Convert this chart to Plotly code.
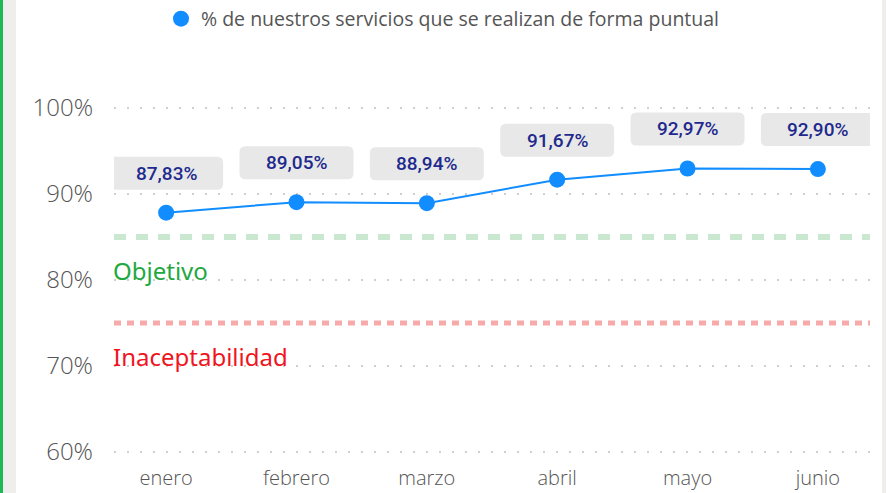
import plotly.graph_objects as go

months = ["enero", "febrero", "marzo", "abril", "mayo", "junio"]
pct_on_time = [87.83, 89.05, 88.94, 91.67, 92.97, 92.90]
target_value = 85
unacceptable_value = 75
y_ticks = [60, 70, 80, 90, 100]
y_tick_labels = ["60%", "70%", "80%", "90%", "100%"]
series_name = "% de nuestros servicios que se realizan de forma puntual"

W, H = 886, 493
ML, MR, MT, MB = 114, 16, 104, 35
PW = W - ML - MR
PH = H - MT - MB

BLUE = "#118DFF"
fig = go.Figure()
fig.add_trace(go.Scatter(
    x=months, y=pct_on_time, mode="lines+markers",
    line=dict(color=BLUE, width=2),
    marker=dict(color=BLUE, size=16),
    showlegend=False, hoverinfo="skip", cliponaxis=False,
))
fig.add_trace(go.Scatter(
    x=[None], y=[None], mode="markers", name=series_name,
    marker=dict(color=BLUE, size=22), showlegend=True,
))

shapes = []
annotations = []
# rounded label boxes anchored at data points (pixel offsets)
bw, bh, off, r = 57, 33, 23, 6
path = (f"M {-bw+r},{off} L {bw-r},{off} Q {bw},{off} {bw},{off+r} "
        f"L {bw},{off+bh-r} Q {bw},{off+bh} {bw-r},{off+bh} "
        f"L {-bw+r},{off+bh} Q {-bw},{off+bh} {-bw},{off+bh-r} "
        f"L {-bw},{off+r} Q {-bw},{off} {-bw+r},{off} Z")
for m, v in zip(months, pct_on_time):
    shapes.append(dict(type="path", xref="x", yref="y", xsizemode="pixel", ysizemode="pixel",
                       xanchor=m, yanchor=v, path=path,
                       fillcolor="#E8E8E8", line=dict(width=0), layer="below"))
    annotations.append(dict(x=m, y=v, xref="x", yref="y", text=f"{v:.2f}%".replace(".", ","),
                            showarrow=False, yshift=off + bh / 2, yanchor="middle",
                            font=dict(family="Roboto", size=19, color="#1E2A8E", weight=500)))

# reference lines
shapes.append(dict(type="line", xref="paper", yref="y", x0=0, x1=1,
                   y0=target_value, y1=target_value,
                   line=dict(color="#C9E8CF", width=6, dash="12px,10px"), layer="below"))
shapes.append(dict(type="line", xref="paper", yref="y", x0=0, x1=1,
                   y0=unacceptable_value, y1=unacceptable_value,
                   line=dict(color="#F8A9A9", width=5, dash="7px,6px"), layer="below"))
annotations.append(dict(x=0, y=target_value, xref="paper", yref="y", text="Objetivo",
                        showarrow=False, xanchor="left", yanchor="middle", yshift=-33, xshift=-3,
                        font=dict(family="Noto Sans", size=24, color="#22A83F")))
annotations.append(dict(x=0, y=unacceptable_value, xref="paper", yref="y", text="Inaceptabilidad",
                        showarrow=False, xanchor="left", yanchor="middle", yshift=-33, xshift=-3,
                        font=dict(family="Noto Sans", size=24, color="#F0141E")))

# frame decorations (left green bar, gray strips)
def px_x(p):
    return (p - ML) / PW
full_y0 = -MB / PH - 0.01
full_y1 = 1 + MT / PH + 0.01
shapes.append(dict(type="rect", xref="paper", yref="paper", x0=px_x(0), x1=px_x(3),
                   y0=full_y0, y1=full_y1, fillcolor="#1DB954", line=dict(width=0), layer="below"))
shapes.append(dict(type="rect", xref="paper", yref="paper", x0=px_x(3), x1=px_x(16),
                   y0=full_y0, y1=full_y1, fillcolor="#EFEEEC", line=dict(width=0), layer="below"))
shapes.append(dict(type="rect", xref="paper", yref="paper", x0=px_x(882), x1=px_x(887),
                   y0=full_y0, y1=full_y1, fillcolor="#EFEEEC", line=dict(width=0), layer="below"))

fig.update_layout(
    width=W, height=H,
    margin=dict(l=ML, r=MR, t=MT, b=MB, autoexpand=False),
    paper_bgcolor="white", plot_bgcolor="white",
    shapes=shapes, annotations=annotations,
    showlegend=True,
    legend=dict(orientation="h", xref="container", yref="container",
                x=0.5, xanchor="center", y=1 - 19 / H, yanchor="middle",
                font=dict(family="Open Sans", size=19.5, color="#555555"),
                itemsizing="trace", itemwidth=30, bgcolor="rgba(0,0,0,0)"),
    xaxis=dict(type="category", categoryorder="array", categoryarray=months,
               range=[-0.4, 5.4], showgrid=False, zeroline=False, showline=False,
               tickfont=dict(family="Open Sans", size=20, color="#555555", weight=300),
               ticks="", ticklabelstandoff=6, automargin=False),
    yaxis=dict(range=[59.3, 100.47], tickmode="array", tickvals=y_ticks, ticktext=y_tick_labels,
               showgrid=True, gridcolor="#CFCFCF", gridwidth=2, griddash="2px,11px",
               zeroline=False, showline=False, ticks="",
               tickfont=dict(family="Open Sans", size=24, color="#555555", weight=300),
               ticklabelstandoff=20, automargin=False),
)

fig.write_html("out.html", config={"displayModeBar": False},
               post_script="document.body.style.margin='0px';")
